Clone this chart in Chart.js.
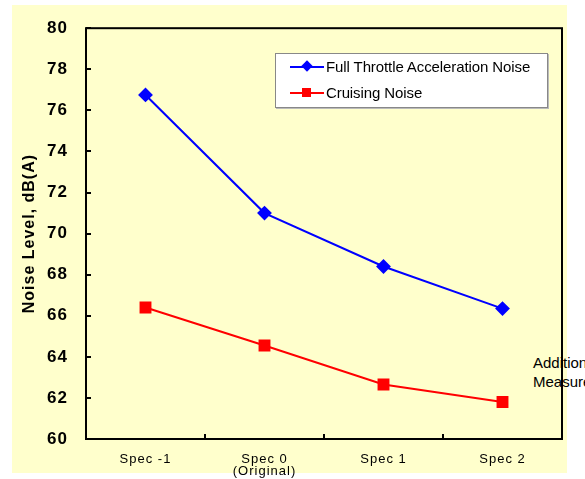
<!DOCTYPE html>
<html>
<head>
<meta charset="utf-8">
<script src="https://cdn.jsdelivr.net/npm/chart.js@4/dist/chart.umd.min.js"></script>
<style>
  html, body { margin: 0; padding: 0; background: #ffffff; overflow: hidden; }
  #wrap { position: relative; width: 585px; height: 479px; overflow: hidden; font-family: "Liberation Sans", Arial, sans-serif; }
  #bg { position: absolute; left: 12px; top: 5px; width: 555px; height: 468px; background: #FFFFCC; }
  #note { position: absolute; left: 533px; top: 353px; font-size: 15px; line-height: 19px; color: #000; white-space: nowrap; }
  #chart { position: absolute; left: 0; top: 0; }
  #legend { position: absolute; left: 275px; top: 53px; width: 271px; height: 53px; background: #fff; border: 1px solid #888; box-shadow: 1px 1px 0 #bbb; }
  .row { position: absolute; left: 0; height: 20px; width: 100%; }
  .ln { position: absolute; left: 14px; width: 34px; height: 2px; top: 9px; }
  .mk { position: absolute; }
  .tx { position: absolute; left: 50px; top: 1px; font-size: 15px; line-height: 18px; color: #000; white-space: nowrap; letter-spacing: -0.1px; }
</style>
</head>
<body>
<div id="wrap">
  <div id="bg"></div>
  <div id="note">Additional<br>Measures</div>
  <canvas id="chart" width="585" height="479"></canvas>
  <div id="legend"></div>
</div>
<script>
const categories = ["Spec -1", ["Spec 0", "(Original)"], "Spec 1", "Spec 2"];
const fullThrottleNoise = [76.75, 71.0, 68.4, 66.35];
const cruisingNoise = [66.4, 64.55, 62.65, 61.8];
const seriesNames = ["Full Throttle Acceleration Noise", "Cruising Noise"];
const yTicks = [60, 62, 64, 66, 68, 70, 72, 74, 76, 78, 80];

const framePlugin = {
  id: 'frame',
  beforeDraw(chart) {
    chart.ctx.letterSpacing = '1px';
  },
  beforeDatasetsDraw(chart) {
    const {ctx, chartArea: a, scales} = chart;
    ctx.save();
    ctx.strokeStyle = '#000';
    ctx.lineWidth = 2;
    ctx.strokeRect(a.left, a.top, a.right - a.left, a.bottom - a.top);
    ctx.beginPath();
    yTicks.forEach(v => {
      const y = Math.round(scales.y.getPixelForValue(v));
      ctx.moveTo(a.left, y);
      ctx.lineTo(a.left + 5, y);
    });
    const xs = scales.x;
    for (let i = 0; i < categories.length - 1; i++) {
      const bx = Math.round((xs.getPixelForTick(i) + xs.getPixelForTick(i + 1)) / 2);
      ctx.moveTo(bx, a.bottom);
      ctx.lineTo(bx, a.bottom - 5);
    }
    ctx.stroke();
    ctx.restore();
  }
};

const chart = new Chart(document.getElementById('chart'), {
  type: 'line',
  data: {
    labels: categories,
    datasets: [
      {
        label: seriesNames[0], data: fullThrottleNoise,
        borderColor: '#0000FF', backgroundColor: '#0000FF', borderWidth: 2,
        pointStyle: 'rectRot', pointRadius: 6, pointHoverRadius: 6, tension: 0
      },
      {
        label: seriesNames[1], data: cruisingNoise,
        borderColor: '#FF0000', backgroundColor: '#FF0000', borderWidth: 2,
        pointStyle: 'rect', pointRadius: 7, pointHoverRadius: 7, tension: 0
      }
    ]
  },
  options: {
    responsive: false,
    devicePixelRatio: 1,
    animation: false,
    layout: { padding: { left: 0, top: 25, right: 23, bottom: 0 } },
    plugins: { legend: { display: false }, tooltip: { enabled: false } },
    scales: {
      x: {
        offset: true,
        grid: { display: false, drawTicks: false },
        border: { display: false },
        ticks: { color: '#000', padding: 14, maxRotation: 0, autoSkip: false,
          font: { family: '"Liberation Sans", Arial, sans-serif', size: 13, lineHeight: 0.95 } },
        afterFit(s) { s.height = 40; }
      },
      y: {
        min: 60, max: 80,
        afterBuildTicks(s) { s.ticks = yTicks.map(v => ({ value: v })); },
        grid: { display: false, drawTicks: false },
        border: { display: false },
        ticks: { color: '#000', padding: 18,
          font: { family: '"Liberation Sans", Arial, sans-serif', size: 17, weight: 'bold' } },
        title: { display: true, text: 'Noise Level, dB(A)', color: '#000', padding: { top: 20, bottom: 0 },
          font: { family: '"Liberation Sans", Arial, sans-serif', size: 16, weight: 'bold' } },
        afterFit(s) { s.width = 86; }
      }
    }
  },
  plugins: [framePlugin]
});

// Legend built from the datasets
const legend = document.getElementById('legend');
chart.data.datasets.forEach((ds, i) => {
  const row = document.createElement('div');
  row.className = 'row';
  row.style.top = (3 + i * 26) + 'px';
  const ln = document.createElement('div');
  ln.className = 'ln';
  ln.style.background = ds.borderColor;
  const mk = document.createElement('div');
  mk.className = 'mk';
  mk.style.background = ds.backgroundColor;
  if (ds.pointStyle === 'rectRot') {
    mk.style.width = '8px'; mk.style.height = '8px';
    mk.style.left = '27px'; mk.style.top = '5px';
    mk.style.transform = 'rotate(45deg)';
  } else {
    mk.style.width = '9px'; mk.style.height = '9px';
    mk.style.left = '26px'; mk.style.top = '5px';
  }
  const tx = document.createElement('div');
  tx.className = 'tx';
  tx.textContent = ds.label;
  row.appendChild(ln); row.appendChild(mk); row.appendChild(tx);
  legend.appendChild(row);
});
</script>
</body>
</html>
